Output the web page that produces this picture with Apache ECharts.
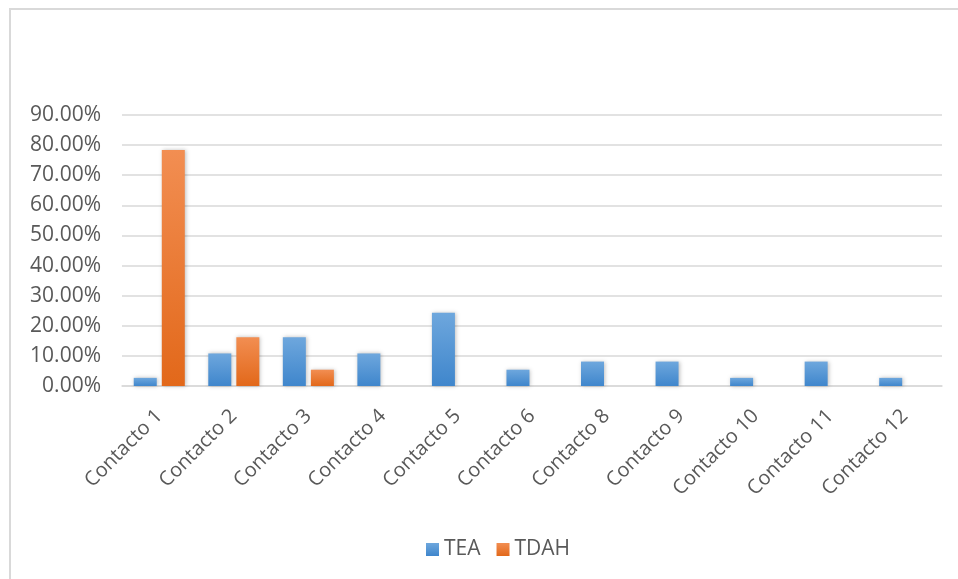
<!DOCTYPE html>
<html>
<head>
<meta charset="utf-8">
<script src="https://cdn.jsdelivr.net/npm/echarts@6/dist/echarts.min.js"></script>
<style>
html,body{margin:0;padding:0;background:#fff;}
#c{width:958px;height:579px;}
</style>
</head>
<body>
<div id="c"></div>
<script>
const categories = ['Contacto 1','Contacto 2','Contacto 3','Contacto 4','Contacto 5','Contacto 6','Contacto 8','Contacto 9','Contacto 10','Contacto 11','Contacto 12'];
const teaValues = [0.0270, 0.1081, 0.1622, 0.1081, 0.2432, 0.0541, 0.0811, 0.0811, 0.0270, 0.0811, 0.0270];
const tdahValues = [0.7838, 0.1622, 0.0541, 0, 0, 0, 0, 0, 0, 0, 0];
const seriesNames = ['TEA', 'TDAH'];

const chart = echarts.init(document.getElementById('c'), null, {renderer: 'canvas'});
const font = '"Open Sans", sans-serif';
function grad(top, bottom) {
  return new echarts.graphic.LinearGradient(0, 0, 0, 1, [
    {offset: 0, color: top}, {offset: 1, color: bottom}
  ]);
}
chart.setOption({
  animation: false,
  backgroundColor: '#fff',
  graphic: [{
    type: 'rect',
    shape: {x: 10, y: 9, width: 1000, height: 1000},
    style: {fill: 'none', stroke: '#d9d9d9', lineWidth: 2},
    silent: true
  }],
  grid: {left: 122, right: 16, top: 115, bottom: 193, containLabel: false},
  legend: {
    data: seriesNames,
    left: 421, top: 534,
    icon: 'rect', itemWidth: 13, itemHeight: 13, itemGap: 16, itemTextGap: 5,
    textStyle: {fontFamily: font, fontSize: 21, color: '#595959'}
  },
  xAxis: {
    type: 'category',
    data: categories,
    axisTick: {show: false},
    axisLine: {lineStyle: {color: '#d9d9d9', width: 1.5}},
    axisLabel: {rotate: 45, interval: 0, fontFamily: font, fontSize: 20, color: '#595959', margin: 27}
  },
  yAxis: {
    type: 'value',
    min: 0, max: 0.9, interval: 0.1,
    axisLine: {show: false}, axisTick: {show: false},
    splitLine: {lineStyle: {color: '#d9d9d9', width: 1.5}},
    axisLabel: {fontFamily: font, fontSize: 21, color: '#595959', margin: 21,
      formatter: v => (v * 100).toFixed(2) + '%'}
  },
  series: [
    {name: seriesNames[0], type: 'bar', data: teaValues, barWidth: 23, barGap: '22%',
     itemStyle: {color: grad('#6ea7dd', '#3f86cc'), shadowBlur: 4, shadowColor: 'rgba(0,0,0,0.25)', shadowOffsetX: 1}},
    {name: seriesNames[1], type: 'bar', data: tdahValues, barWidth: 23,
     itemStyle: {color: grad('#f28e52', '#e2681a'), shadowBlur: 4, shadowColor: 'rgba(0,0,0,0.25)', shadowOffsetX: 1}}
  ]
});
</script>
</body>
</html>
